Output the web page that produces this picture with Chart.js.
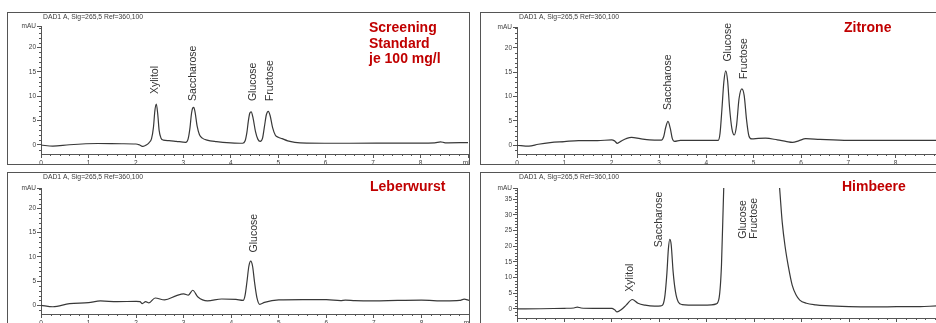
<!DOCTYPE html>
<html>
<head>
<meta charset="utf-8">
<script src="https://cdn.jsdelivr.net/npm/chart.js@4/dist/chart.umd.min.js"></script>
<style>
  html, body { margin: 0; padding: 0; background: #fff; width: 936px; height: 323px; overflow: hidden; }
  .panel { position: absolute; border: 1px solid #555; overflow: hidden; background: #fff; }
  .panel canvas { position: absolute; left: 0; top: 0; }
</style>
</head>
<body>
<div class="panel" style="left:7px;top:12px;width:461px;height:151px"><canvas id="standard" width="480" height="160"></canvas></div>
<div class="panel" style="left:480px;top:12px;width:470px;height:151px"><canvas id="zitrone" width="480" height="160"></canvas></div>
<div class="panel" style="left:7px;top:172px;width:461px;height:160px"><canvas id="leberwurst" width="480" height="160"></canvas></div>
<div class="panel" style="left:480px;top:172px;width:470px;height:160px"><canvas id="himbeere" width="480" height="160"></canvas></div>
<script>
const FONT = "'Liberation Sans', Arial, sans-serif";
const INK = '#3c3c3c';
const AXIS = '#555';
const RED = '#c00000';

const signalName = 'DAD1 A, Sig=265,5 Ref=360,100';
const minuteTicks = [0, 1, 2, 3, 4, 5, 6, 7, 8];
const mauTicks = [0, 5, 10, 15, 20];
const mauTicksHigh = [0, 5, 10, 15, 20, 25, 30, 35];

// traces: [retention time (min), signal (mAU)]
const standardTrace = [
  [0, 0], [0.25, -0.25], [0.6, 0.05], [1.2, 0.3], [1.7, 0.25], [2.0, 0.2], [2.08, 0.0], [2.15, -0.3],
  [2.22, 0.0], [2.28, 0.5], [2.33, 1.3], [2.37, 3.6], [2.40, 7.0], [2.43, 8.4], [2.46, 6.4], [2.49, 3.0],
  [2.53, 1.4], [2.58, 1.0], [2.7, 0.9], [2.85, 0.75], [3.05, 0.55], [3.10, 1.2], [3.14, 3.5], [3.17, 6.3],
  [3.20, 7.6], [3.22, 7.7], [3.25, 6.6], [3.29, 3.9], [3.34, 2.1], [3.40, 1.4], [3.5, 1.0], [3.7, 0.7],
  [4.0, 0.45], [4.25, 0.35], [4.30, 0.8], [4.34, 2.6], [4.37, 4.9], [4.40, 6.5], [4.43, 6.8], [4.47, 5.5],
  [4.52, 2.8], [4.57, 1.2], [4.62, 0.75], [4.67, 1.4], [4.71, 3.8], [4.75, 6.2], [4.79, 6.9], [4.83, 6.0],
  [4.88, 3.6], [4.94, 2.0], [5.0, 1.6], [5.08, 1.3], [5.2, 0.85], [5.35, 0.55], [5.6, 0.4], [6.5, 0.35],
  [7.5, 0.38], [8.3, 0.45], [8.42, 0.65], [8.52, 0.45], [9.0, 0.5]
];
const zitroneTrace = [
  [0, 0], [0.25, -0.2], [0.45, 0.2], [0.7, 0.55], [1.0, 0.75], [1.3, 0.95], [1.7, 0.95], [2.0, 1.1],
  [2.06, 0.9], [2.12, 0.4], [2.2, 0.85], [2.32, 1.4], [2.42, 1.6], [2.6, 1.35], [2.8, 1.1], [3.05, 1.05],
  [3.10, 1.8], [3.14, 3.6], [3.19, 4.9], [3.24, 3.4], [3.28, 1.4], [3.33, 0.8], [3.45, 1.0], [3.8, 1.0],
  [4.25, 1.0], [4.29, 2.5], [4.33, 7.5], [4.37, 13.0], [4.41, 15.3], [4.45, 13.2], [4.49, 7.8], [4.54, 3.4],
  [4.59, 2.1], [4.64, 4.2], [4.69, 9.5], [4.75, 11.6], [4.80, 10.2], [4.85, 5.2], [4.90, 1.9], [4.96, 1.3],
  [5.1, 1.4], [5.25, 1.45], [5.5, 1.1], [5.7, 0.75], [5.82, 0.6], [5.95, 0.9], [6.1, 1.35], [6.4, 1.2],
  [7.0, 1.0], [8.0, 1.0], [9.0, 1.0]
];
const leberwurstTrace = [
  [0, 0], [0.25, -0.3], [0.6, 0.35], [1.0, 0.55], [1.25, 0.9], [1.6, 0.75], [2.0, 0.8], [2.08, 0.75],
  [2.13, 0.35], [2.2, 0.75], [2.27, 0.5], [2.4, 1.5], [2.6, 1.1], [2.85, 2.0], [3.0, 2.35], [3.1, 2.1],
  [3.19, 3.1], [3.3, 1.7], [3.5, 0.9], [3.8, 1.3], [4.1, 1.2], [4.25, 1.0], [4.29, 2.0], [4.33, 4.8],
  [4.37, 8.0], [4.41, 9.1], [4.45, 8.0], [4.49, 4.8], [4.54, 1.6], [4.6, 0.2], [4.7, 0.6], [5.0, 1.1],
  [5.5, 1.15], [6.0, 1.15], [6.3, 0.95], [6.4, 1.05], [6.6, 0.95], [7.0, 0.9], [7.5, 1.0], [8.0, 1.05],
  [8.5, 0.9], [8.8, 1.0], [8.9, 1.25], [9.0, 1.0]
];
const himbeereTrace = [
  [0, 0], [0.5, 0.05], [1.0, 0.2], [1.2, 0.3], [1.27, 0.6], [1.35, 0.3], [1.6, 0.2], [2.0, 0.2],
  [2.06, -0.3], [2.11, -0.95], [2.2, -0.2], [2.3, 1.2], [2.43, 3.0], [2.55, 1.8], [2.7, 1.2], [2.9, 0.9],
  [3.04, 1.0], [3.08, 1.5], [3.12, 4.5], [3.16, 11.5], [3.19, 19.0], [3.22, 22.2], [3.25, 20.5], [3.29, 12.0],
  [3.34, 5.5], [3.40, 2.2], [3.48, 1.4], [3.8, 1.2], [4.1, 1.3], [4.2, 1.6], [4.26, 3.5], [4.31, 14.0],
  [4.36, 40], [4.5, 90], [4.75, 130], [4.95, 120], [5.2, 100], [5.4, 60], [5.53, 39.5], [5.59, 27.7],
  [5.65, 20.0], [5.72, 13.5], [5.8, 7.6], [5.88, 4.5], [5.96, 2.8], [6.1, 1.8], [6.3, 1.3], [6.5, 1.05],
  [7.0, 0.75], [7.5, 0.65], [8.0, 0.7], [8.5, 0.75], [8.85, 0.95], [9.0, 1.0]
];

// peak names and where their labels stand [min, mAU]
const standardPeaks = ['Xylitol', 'Saccharose', 'Glucose', 'Fructose'];
const standardPeakSpots = [[2.40, 10.45], [3.20, 9.0], [4.48, 9.0], [4.82, 9.0]];
const zitronePeaks = ['Saccharose', 'Glucose', 'Fructose'];
const zitronePeakSpots = [[3.19, 7.25], [4.47, 17.2], [4.80, 13.6]];
const leberwurstPeaks = ['Glucose'];
const leberwurstPeakSpots = [[4.48, 10.9]];
const himbeerePeaks = ['Xylitol', 'Saccharose', 'Glucose', 'Fructose'];
const himbeerePeakSpots = [[2.38, 5.5], [3.0, 19.7], [4.76, 22.4], [5.0, 22.4]];

const decor = {
  id: 'decor',
  afterDraw(chart, args, o) {
    const { ctx, chartArea: a, scales: { x, y } } = chart;
    ctx.save();
    // minor ticks
    ctx.strokeStyle = AXIS;
    ctx.lineWidth = 1;
    ctx.beginPath();
    for (let i = 1; i < 45; i++) {
      if (i % 5 === 0) continue;
      const px = Math.round(x.getPixelForValue(i / 5)) + 0.5;
      ctx.moveTo(px, a.bottom);
      ctx.lineTo(px, a.bottom + 2);
    }
    for (let v = Math.ceil(y.min); v <= Math.floor(y.max); v++) {
      if (v % 5 === 0) continue;
      const py = Math.round(y.getPixelForValue(v)) + 0.5;
      ctx.moveTo(a.left - 2, py);
      ctx.lineTo(a.left, py);
    }
    ctx.stroke();
    // signal header
    ctx.fillStyle = INK;
    ctx.font = '6.8px ' + FONT;
    ctx.textAlign = 'left';
    ctx.textBaseline = 'middle';
    ctx.fillText(signalName, a.left + 2, o.headY);
    // sample name
    ctx.fillStyle = RED;
    ctx.font = 'bold 14px ' + FONT;
    ctx.textBaseline = 'alphabetic';
    o.title.forEach((line, i) => ctx.fillText(line, o.titleX, o.titleY + i * 15.8));
    // peak names, rotated
    ctx.fillStyle = '#333';
    ctx.font = '10.5px ' + FONT;
    ctx.textBaseline = 'middle';
    o.peaks.forEach((name, i) => {
      const [t, h] = o.spots[i];
      ctx.save();
      ctx.translate(x.getPixelForValue(t), y.getPixelForValue(h));
      ctx.rotate(-Math.PI / 2);
      ctx.fillText(name, 0, 0);
      ctx.restore();
    });
    ctx.restore();
  }
};

function chromatogram(id, trace, p) {
  const yTicks = p.yTicks.concat([p.yMax]);
  const xTicks = minuteTicks.concat([9]);
  return new Chart(document.getElementById(id), {
    type: 'line',
    data: {
      datasets: [{
        data: trace.map(([t, v]) => ({ x: t, y: v })),
        borderColor: '#383838',
        borderWidth: 1.2,
        pointRadius: 0,
        fill: false,
        cubicInterpolationMode: 'monotone'
      }]
    },
    options: {
      responsive: false,
      animation: false,
      events: [],
      layout: { padding: { left: 0, top: p.top, right: p.right, bottom: 0 } },
      plugins: {
        legend: { display: false },
        tooltip: { enabled: false },
        decor: { headY: p.headY, title: p.title, titleX: p.titleX, titleY: p.titleY, peaks: p.peaks, spots: p.spots }
      },
      scales: {
        x: {
          type: 'linear', min: 0, max: 9,
          afterBuildTicks: s => { s.ticks = xTicks.map(v => ({ value: v })); },
          afterFit: s => { s.height = p.xHeight; },
          grid: { drawOnChartArea: false, drawTicks: true, tickLength: 4, tickColor: AXIS },
          border: { display: true, color: AXIS },
          ticks: {
            autoSkip: false, maxRotation: 0, padding: 1, color: INK,
            font: { size: 6.5, family: FONT },
            callback: v => (v === 9 ? 'min' : v)
          }
        },
        y: {
          type: 'linear', min: p.yMin, max: p.yMax,
          afterBuildTicks: s => { s.ticks = yTicks.map(v => ({ value: v })); },
          afterFit: s => { s.width = p.yWidth; },
          grid: { drawOnChartArea: false, drawTicks: true, tickLength: 4, tickColor: AXIS },
          border: { display: true, color: AXIS },
          ticks: {
            padding: 1, color: INK,
            font: { size: 6.5, family: FONT },
            callback: v => (v === p.yMax ? 'mAU' : v)
          }
        }
      }
    },
    plugins: [decor]
  });
}

chromatogram('standard', standardTrace, {
  yMin: -1.85, yMax: 24.4, yTicks: mauTicks, yWidth: 33, top: 13, right: 20, xHeight: 19,
  headY: 3.7, title: ['Screening', 'Standard', 'je 100 mg/l'], titleX: 361, titleY: 18.7,
  peaks: standardPeaks, spots: standardPeakSpots
});
chromatogram('zitrone', zitroneTrace, {
  yMin: -1.8, yMax: 24.3, yTicks: mauTicks, yWidth: 36, top: 14, right: 18, xHeight: 19,
  headY: 3.7, title: ['Zitrone'], titleX: 363, titleY: 18.7,
  peaks: zitronePeaks, spots: zitronePeakSpots
});
chromatogram('leberwurst', leberwurstTrace, {
  yMin: -1.8, yMax: 24.2, yTicks: mauTicks, yWidth: 33, top: 15, right: 19, xHeight: 19,
  headY: 4.3, title: ['Leberwurst'], titleX: 362, titleY: 17.5,
  peaks: leberwurstPeaks, spots: leberwurstPeakSpots
});
chromatogram('himbeere', himbeereTrace, {
  yMin: -2.9, yMax: 38.6, yTicks: mauTicksHigh, yWidth: 36, top: 15, right: 17, xHeight: 15,
  headY: 4.3, title: ['Himbeere'], titleX: 361, titleY: 17.5,
  peaks: himbeerePeaks, spots: himbeerePeakSpots
});
</script>
</body>
</html>
